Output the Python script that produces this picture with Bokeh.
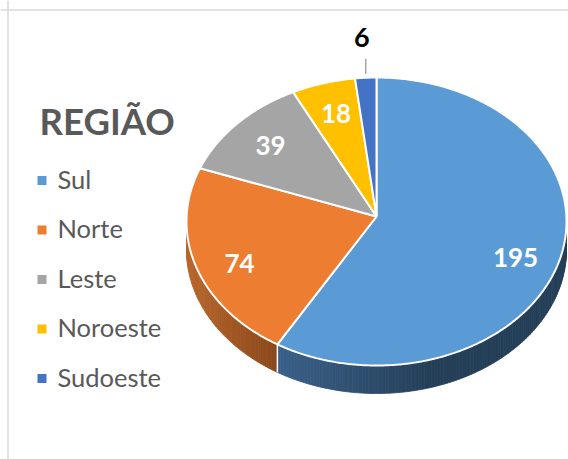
import numpy as np
from bokeh.plotting import figure
from bokeh.models import Range1d, Span
from bokeh.core.properties import value
from bokeh.embed import file_html
from bokeh.resources import INLINE

# ---- data ----
categories = ["Sul", "Norte", "Leste", "Noroeste", "Sudoeste"]
counts = [195, 74, 39, 18, 6]
colors = ["#5B9BD5", "#ED7D31", "#A5A5A5", "#FFC000", "#4472C4"]
title_text = "REGIÃO"

# ---- geometry / style ----
CX, CY = 376.0, 221.0
RX, RY = 190.0, 144.0
APEX_X, APEX_Y = 376.0, 216.0
DEPTH = 28.0
FONT = "Lato"
W, H = 568, 459

p = figure(width=W, height=H, output_backend="svg", toolbar_location=None,
           x_range=Range1d(0, W), y_range=Range1d(H, 0),
           min_border=0, outline_line_color=None)
p.axis.visible = False
p.grid.visible = False
p.background_fill_color = "white"
p.border_fill_color = "white"

p.add_layout(Span(location=7.5, dimension="height", line_color="#D9D9D9", line_width=1.5))
p.add_layout(Span(location=9.5, dimension="width", line_color="#D9D9D9", line_width=1.5))


def rim(theta_deg, dy=0.0):
    t = np.radians(theta_deg)
    return CX + RX * np.cos(t), CY - RY * np.sin(t) + dy


def hex2rgb(h):
    h = h.lstrip("#")
    return np.array([int(h[i:i + 2], 16) for i in (0, 2, 4)], dtype=float)


def mix(c1, c2, t):
    t = min(max(t, 0.0), 1.0)
    c = hex2rgb(c1) * (1 - t) + hex2rgb(c2) * t
    return "#%02x%02x%02x" % tuple(int(round(v)) for v in c)


side_grad = {
    "Sul": ("#3B6189", "#243F58", 277.0, 430.0),
    "Norte": ("#B9672C", "#8A481C", 186.0, 277.0),
}

total = float(sum(counts))
starts, ends = [], []
a = 90.0
for v in counts:
    starts.append(a)
    a -= 360.0 * v / total
    ends.append(a)

# ---- sides (front, lower half) ----
sx, sy, sc = [], [], []
for cat, s, e in zip(categories, starts, ends):
    hi = min(s, 0.0)
    lo = max(e, -180.0)
    if lo >= hi:
        continue
    n = max(2, int((hi - lo) / 1.0) + 1)
    th = np.linspace(hi, lo, n)
    c1, c2, x0, x1 = side_grad.get(cat, ("#555555", "#333333", 0, 1))
    for i in range(n - 1):
        xa, ya = rim(th[i])
        xb, yb = rim(th[i + 1])
        xs = [xa, xb, xb, xa]
        ys = [ya, yb, yb + DEPTH, ya + DEPTH]
        xm = 0.5 * (xa + xb)
        col = mix(c1, c2, (xm - x0) / (x1 - x0))
        sx.append(xs)
        sy.append(ys)
        sc.append(col)
p.patches(sx, sy, fill_color=sc, line_color=sc, line_width=0.8)

# white edge between side faces at slice boundaries in the front
for s in starts:
    if -180.0 < s < 0.0:
        bx, by = rim(s)
        p.line([bx, bx], [by, by + DEPTH], line_color="white", line_width=1.5)

# ---- top faces ----
tx, ty = [], []
for s, e in zip(starts, ends):
    n = max(3, int(abs(s - e) / 0.5) + 1)
    th = np.linspace(s, e, n)
    xr, yr = rim(th)
    tx.append([APEX_X] + list(xr))
    ty.append([APEX_Y] + list(yr))
p.patches(tx, ty, fill_color=colors, line_color="white", line_width=2)

# ---- data labels ----
in_x, in_y, in_t = [], [], []
for v, s, e in zip(counts, starts, ends):
    mid = 0.5 * (s + e)
    if v / total >= 0.03:
        t = np.radians(mid)
        in_x.append(CX + RX * 0.76 * np.cos(t))
        in_y.append(CY - RY * 0.78 * np.sin(t) + (6 if np.sin(t) < 0 else 0))
        in_t.append(str(v))
    else:
        rx_, ry_ = rim(mid)
        p.line([rx_, rx_], [ry_ - 4, ry_ - 19], line_color="#A6A6A6", line_width=1.5)
        p.text([rx_ - 4], [ry_ - 40], text=[str(v)], text_font=value(FONT),
               text_font_style="bold", text_font_size="27px", text_color="#000000",
               text_align="center", text_baseline="middle")
p.text(in_x, in_y, text=in_t, text_font=value(FONT),
       text_font_style="bold", text_font_size="26px", text_color="white",
       text_align="center", text_baseline="middle")

# ---- title ----
p.text([39], [120], text=[title_text], text_font=value(FONT), text_font_style="bold",
       text_font_size="36.5px", text_color="#595959", text_align="left",
       text_baseline="middle")

# ---- legend ----
ly = [178.0 + 49.5 * i for i in range(len(categories))]
p.scatter([41.5] * len(categories), [y + 2 for y in ly], marker="square", size=9,
          fill_color=colors, line_color=None)
p.text([57] * len(categories), ly, text=categories, text_font=value(FONT),
       text_font_size="25.5px", text_color="#595959", text_align="left",
       text_baseline="middle")

open("out.html", "w").write(file_html(p, INLINE))
